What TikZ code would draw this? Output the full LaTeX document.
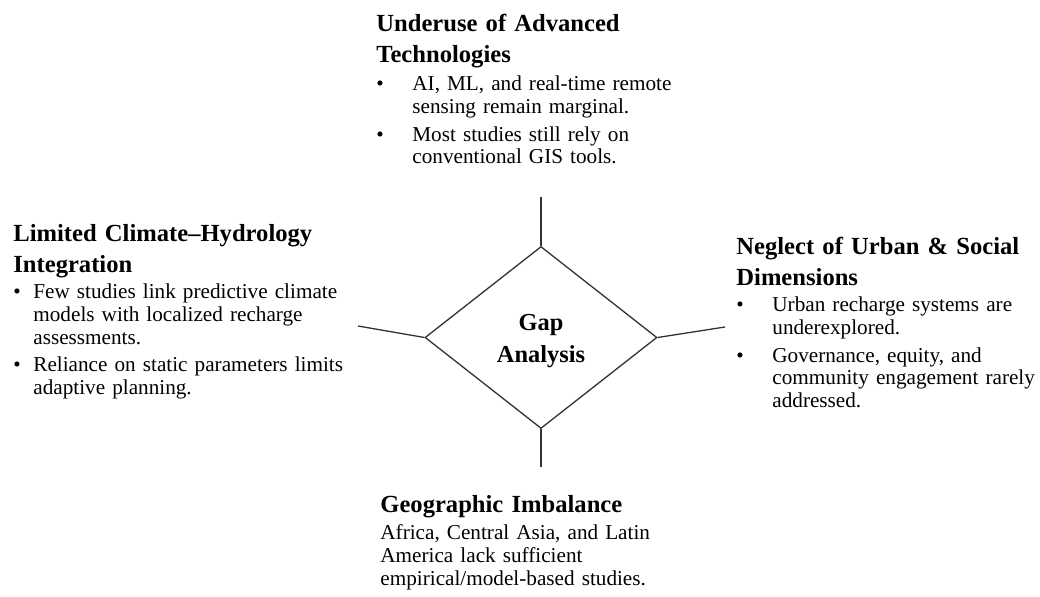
\documentclass[tikz,border=0pt]{standalone}
\usepackage{fontspec}
\setmainfont{Liberation Serif}
\usetikzlibrary{shapes.geometric}
\newcommand{\gapdot}[1]{\makebox[#1][l]{\textbullet}}
\newcommand{\gapind}[1]{\hspace*{#1}}
\tikzset{
  gaphead/.style={anchor=base west,inner sep=0pt,text width=200pt,align=left,
    font=\fontsize{12.3}{15.5}\selectfont\bfseries},
  gapbody/.style={anchor=base west,inner sep=0pt,text width=200pt,align=left,
    font=\fontsize{10.6}{11.3}\selectfont},
  gapline/.style={draw=black!80,line width=0.65pt}
}
\begin{document}
\begin{tikzpicture}[x=0.5pt,y=-0.5pt]
\useasboundingbox (0,0) rectangle (1040,597);
\node[diamond,gapline,aspect=1.27,minimum width=116pt,minimum height=91pt,inner sep=0pt,
  align=center,font=\fontsize{12.2}{16}\selectfont\bfseries] (gap) at (541,337.5) {\rule{0pt}{11.3pt}Gap\\Analysis};
\coordinate (tech end) at (541,197);
\coordinate (clim end) at (358,326);
\coordinate (urb end) at (725,327);
\coordinate (geo end) at (541,467);
\draw[gapline] (gap.north) -- (tech end);
\draw[gapline] (gap.west) -- (clim end);
\draw[gapline] (gap.east) -- (urb end);
\draw[gapline] (gap.south) -- (geo end);
\node[gaphead] (tech) at (376,32) {Underuse of Advanced\\Technologies};
\node[gapbody] (tech txt) at (376,91) {\gapdot{18pt}AI, ML, and real-time remote\\
  \gapind{18pt}sensing remain marginal.\\[2.5pt]
  \gapdot{18pt}Most studies still rely on\\
  \gapind{18pt}conventional GIS tools.};
\node[gaphead] (clim) at (13,242) {Limited Climate--Hydrology\\Integration};
\node[gapbody] (clim txt) at (13,299) {\gapdot{10pt}Few studies link predictive climate\\
  \gapind{10pt}models with localized recharge\\
  \gapind{10pt}assessments.\\[2.5pt]
  \gapdot{10pt}Reliance on static parameters limits\\
  \gapind{10pt}adaptive planning.};
\node[gaphead] (urb) at (736,255) {Neglect of Urban \& Social\\Dimensions};
\node[gapbody] (urb txt) at (736,312) {\gapdot{18pt}Urban recharge systems are\\
  \gapind{18pt}underexplored.\\[2.5pt]
  \gapdot{18pt}Governance, equity, and\\
  \gapind{18pt}community engagement rarely\\
  \gapind{18pt}addressed.};
\node[gaphead] (geo) at (380,513) {Geographic Imbalance};
\node[gapbody] (geo txt) at (380,540) {Africa, Central Asia, and Latin\\
  America lack sufficient\\
  empirical/model-based studies.};
\end{tikzpicture}
\end{document}
